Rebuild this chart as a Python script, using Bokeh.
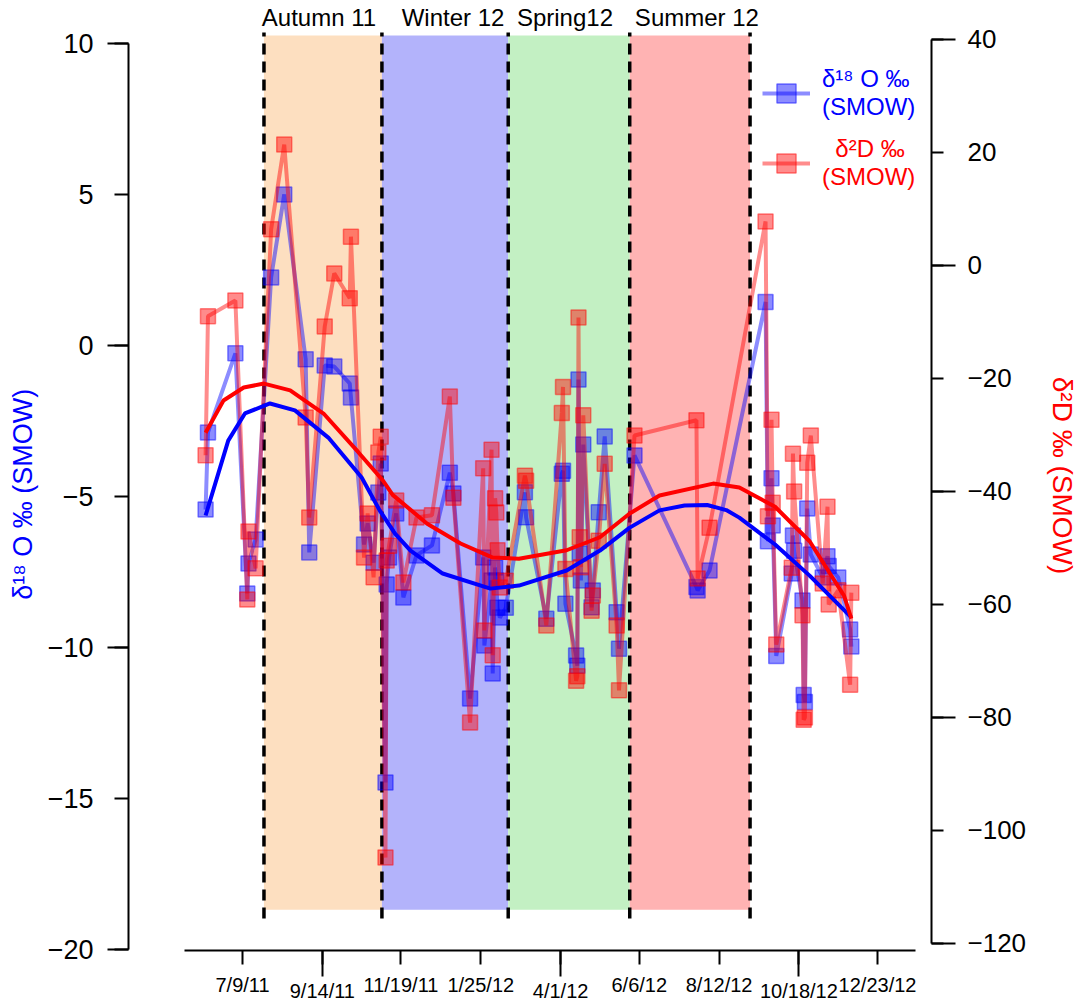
import pandas as pd
from bokeh.plotting import figure
from bokeh.models import (ColumnDataSource, Range1d, LinearAxis, FixedTicker,
                          Legend, LegendItem)
from bokeh.core.properties import value
from bokeh.embed import file_html
from bokeh.resources import INLINE

FONT = "Liberation Sans"
BLUE = "#0000FF"
RED = "#FF0000"
NBSP = "\u00a0"

# --- samples: date, d18O (left axis), d2D (right axis) ---
sample_dates = [
    "2011-06-08", "2011-06-10", "2011-07-03", "2011-07-13", "2011-07-14", "2011-07-20",
    "2011-08-02", "2011-08-13", "2011-08-31", "2011-09-03", "2011-09-16", "2011-09-24",
    "2011-10-07", "2011-10-08", "2011-10-19", "2011-10-22", "2011-10-27", "2011-10-31",
    "2011-11-02", "2011-11-06", "2011-11-07", "2011-11-09", "2011-11-15", "2011-11-21",
    "2011-12-02", "2011-12-15", "2011-12-30", "2012-01-02", "2012-01-16", "2012-01-27",
    "2012-01-28", "2012-02-03", "2012-02-04", "2012-02-06", "2012-02-07", "2012-02-08",
    "2012-02-10", "2012-02-15", "2012-03-02", "2012-03-03", "2012-03-20", "2012-04-02",
    "2012-04-03", "2012-04-05", "2012-04-14", "2012-04-15", "2012-04-16", "2012-04-17",
    "2012-04-18", "2012-04-20", "2012-04-27", "2012-04-28", "2012-05-03", "2012-05-08",
    "2012-05-18", "2012-05-20", "2012-06-02", "2012-07-24", "2012-07-25", "2012-08-04",
    "2012-09-20", "2012-09-22", "2012-09-25", "2012-09-26", "2012-09-29", "2012-10-12",
    "2012-10-13", "2012-10-14", "2012-10-21", "2012-10-22", "2012-10-23", "2012-10-25",
    "2012-10-28", "2012-11-07", "2012-11-11", "2012-11-12", "2012-11-20", "2012-11-30",
    "2012-12-01",
]
d18o = [
    -5.43, -2.88, -0.26, -8.21, -7.22, -6.42,
    2.25, 5.00, -0.46, -6.85, -0.66, -0.70,
    -1.26, -1.72, -6.59, -5.89, -7.19, -4.87,
    -3.91, -14.47, -7.91, -7.02, -5.56, -8.34,
    -6.95, -6.62, -4.21, -4.90, -11.69, -7.02,
    -9.93, -7.78, -10.86, -7.35, -7.78, -8.68,
    -9.01, -8.68, -4.86, -5.69, -9.05, -4.25,
    -4.15, -8.55, -10.26, -10.60, -1.13, -6.89,
    -7.78, -3.28, -8.67, -8.11, -5.52, -3.01,
    -8.83, -10.04, -3.64, -8.00, -8.11, -7.45,
    1.44, -6.48, -4.40, -5.96, -10.28, -7.55,
    -6.29, -6.80, -8.44, -11.57, -11.80, -5.40,
    -6.92, -7.68, -6.98, -7.30, -7.68, -9.40,
    -9.97,
]
d2h = [
    -33.6, -9.0, -6.2, -59.1, -47.1, -53.6,
    6.4, 21.4, -26.9, -44.6, -10.8, -1.4,
    -5.8, 5.1, -51.7, -43.9, -55.2, -33.1,
    -30.3, -104.8, -52.2, -49.6, -41.6, -56.1,
    -44.6, -44.2, -23.2, -41.1, -80.9, -35.9,
    -64.6, -32.6, -69.0, -41.2, -43.7, -50.4,
    -57.0, -55.8, -37.2, -38.1, -63.7, -26.1,
    -21.5, -53.7, -73.5, -72.7, -9.2, -48.1,
    -53.4, -26.5, -61.1, -58.4, -48.7, -35.1,
    -63.7, -75.2, -30.1, -27.4, -55.4, -46.4,
    7.8, -44.4, -27.3, -42.0, -67.1, -53.5,
    -33.3, -40.0, -61.9, -80.4, -80.0, -34.9,
    -30.1, -56.3, -42.7, -60.0, -57.5, -74.2,
    -57.9,
]

# --- smoothed trends ---
trend_o_dates = [
    "2011-06-08", "2011-06-27", "2011-07-11", "2011-08-01", "2011-08-22", "2011-09-19",
    "2011-10-17", "2011-11-01", "2011-11-14", "2011-11-27", "2011-12-24", "2012-02-02",
    "2012-02-26", "2012-04-06", "2012-05-04", "2012-05-29", "2012-06-23", "2012-07-14",
    "2012-08-02", "2012-08-18", "2012-08-29", "2012-09-28", "2012-10-27", "2012-12-01",
]
trend_o = [
    -5.63, -3.15, -2.25, -1.92, -2.15, -3.05,
    -4.37, -5.45, -6.23, -6.79, -7.55, -8.05,
    -7.95, -7.45, -6.79, -6.03, -5.46, -5.30,
    -5.28, -5.45, -5.70, -6.59, -7.62, -9.00,
]
trend_d_dates = [
    "2011-06-08", "2011-06-23", "2011-07-10", "2011-07-27", "2011-08-18", "2011-09-15",
    "2011-10-14", "2011-11-04", "2011-11-12", "2011-12-11", "2012-01-08", "2012-02-04",
    "2012-02-26", "2012-04-06", "2012-05-04", "2012-05-29", "2012-06-23", "2012-08-07",
    "2012-08-29", "2012-09-28", "2012-10-27", "2012-11-25", "2012-12-01",
]
trend_d = [
    -29.6, -23.9, -21.6, -20.9, -22.1, -26.2,
    -33.0, -38.1, -40.6, -45.7, -49.2, -51.7,
    -51.9, -50.4, -48.1, -43.9, -40.7, -38.6,
    -39.3, -42.7, -48.8, -58.5, -62.5,
]

# --- seasons ---
season_names = ["Autumn 11", "Winter 12", "Spring12", "Summer 12"]
season_start = ["2011-07-27", "2011-11-03", "2012-02-17", "2012-05-29"]
season_end = ["2011-11-03", "2012-02-17", "2012-05-29", "2012-09-07"]
season_colors = ["#FDDFC0", "#B3B3FB", "#C3F0C3", "#FFB3B3"]
season_label_nudge = [-4, 8, -4, 7]   # px, label offset from the season midpoint

# --- ticks ---
x_tick_dates = ["2011-07-09", "2011-09-14", "2011-11-19", "2012-01-25", "2012-04-01",
                "2012-06-06", "2012-08-12", "2012-10-18", "2012-12-23"]
x_tick_labels = ["7/9/11", "9/14/11", "11/19/11", "1/25/12", "4/1/12",
                 "6/6/12", "8/12/12", "10/18/12", "12/23/12"]
x_tick_low = [False, True, False, False, True, False, False, True, False]
left_ticks = [-20, -15, -10, -5, 0, 5, 10]
right_ticks = [-120, -100, -80, -60, -40, -20, 0, 20, 40]


def ms(d):
    return pd.Timestamp(d).value / 1e6


def minus(t):
    return str(t).replace("-", "\u2212")


p = figure(width=1084, height=1005, x_axis_type="datetime",
           x_range=Range1d(pd.Timestamp("2011-04-04 07:00").to_pydatetime(),
                           pd.Timestamp("2013-02-06 07:00").to_pydatetime()),
           y_range=Range1d(-20.03, 11.42),
           output_backend="svg", toolbar_location=None,
           min_border_left=128, min_border_right=153,
           min_border_top=0, min_border_bottom=55)
p.extra_y_ranges = {"dD": Range1d(-121.24, 46.90)}
p.outline_line_color = None
p.grid.visible = False

# season shading and boundaries
seasons = ColumnDataSource(dict(left=pd.to_datetime(season_start),
                                right=pd.to_datetime(season_end),
                                color=season_colors))
p.quad(left="left", right="right", bottom=-18.68, top=10.26, fill_color="color",
       line_color=None, source=seasons)
bounds_dates = pd.to_datetime(season_start + season_end[-1:])
p.segment(x0=bounds_dates, y0=-18.97, x1=bounds_dates, y1=10.36,
          line_color="black", line_width=3.5, line_dash="11 7")
mids = [pd.Timestamp(a) + (pd.Timestamp(b) - pd.Timestamp(a)) / 2
        for a, b in zip(season_start, season_end)]
season_lbl = ColumnDataSource(dict(x=mids, y=[10.85] * len(mids), text=season_names,
                                   dx=season_label_nudge))
p.text(x="x", y="y", text="text", x_offset="dx", source=season_lbl, text_align="center",
       text_baseline="alphabetic", text_font=value(FONT), text_font_size="24px",
       text_color="black")

# samples
src = ColumnDataSource(dict(date=pd.to_datetime(sample_dates), o=d18o, d=d2h))
o_line = p.line("date", "o", source=src, line_color=BLUE, line_alpha=0.45, line_width=4)
o_pts = p.scatter("date", "o", source=src, marker="square", size=15,
                  fill_color=BLUE, fill_alpha=0.45, line_color=BLUE, line_alpha=0.45,
                  line_width=1.5)
d_line = p.line("date", "d", source=src, y_range_name="dD", line_color=RED,
                line_alpha=0.45, line_width=4)
d_pts = p.scatter("date", "d", source=src, y_range_name="dD", marker="square", size=15,
                  fill_color=RED, fill_alpha=0.45, line_color=RED, line_alpha=0.45,
                  line_width=1.5)

# trends
p.line(pd.to_datetime(trend_o_dates), trend_o, line_color=BLUE, line_width=4)
p.line(pd.to_datetime(trend_d_dates), trend_d, y_range_name="dD", line_color=RED,
       line_width=4)

# bottom axis: long ticks (minor) carry the lower row of labels
xa = p.xaxis[0]
xa.ticker = FixedTicker(ticks=[ms(d) for d in x_tick_dates],
                        minor_ticks=[ms(d) for d, low in zip(x_tick_dates, x_tick_low) if low])
xa.bounds = (pd.Timestamp("2011-05-21").to_pydatetime(),
             pd.Timestamp("2013-01-24").to_pydatetime())
xa.major_label_overrides = {ms(d): ("\n" + lbl if low else lbl)
                            for d, lbl, low in zip(x_tick_dates, x_tick_labels, x_tick_low)}
xa.major_tick_out = 14
xa.major_tick_in = 0
xa.minor_tick_out = 26
xa.minor_tick_in = 0
xa.major_label_standoff = -3
xa.major_label_text_line_height = 0.3
xa.axis_line_width = 2
xa.major_tick_line_width = 2
xa.minor_tick_line_width = 2
xa.major_label_text_font = FONT
xa.major_label_text_font_size = "20px"
xa.major_label_text_color = "black"

# left axis
ya = p.yaxis[0]
ya.ticker = FixedTicker(ticks=left_ticks, minor_ticks=left_ticks[::2])
ya.bounds = (-20, 10)
ya.major_label_overrides = {t: minus(t) for t in left_ticks}
ya.major_tick_out = 14
ya.minor_tick_out = 21
ya.major_label_standoff = 14
ya.major_label_text_font_size = "27px"
ya.axis_label = "\u03b4\u00b9\u2078 O \u2030 (SMOW)" + NBSP * 5
ya.axis_label_text_color = BLUE
ya.axis_label_text_font_size = "27px"
ya.axis_label_standoff = 7

# right axis
yr = LinearAxis(y_range_name="dD",
                ticker=FixedTicker(ticks=right_ticks, minor_ticks=right_ticks[::2]),
                bounds=(-120, 40))
yr.major_label_overrides = {t: minus(t) for t in right_ticks}
yr.major_tick_out = 12
yr.minor_tick_out = 24
yr.major_label_standoff = 12
yr.major_label_text_font_size = "26px"
yr.axis_label = "\u03b4\u00b2D \u2030 (SMOW)"
yr.axis_label_text_color = RED
yr.axis_label_text_font_size = "28px"
yr.axis_label_standoff = 18
p.add_layout(yr, "right")

for a in [ya, yr]:
    a.major_tick_in = 0
    a.minor_tick_in = 0
    a.axis_line_width = 2
    a.major_tick_line_width = 2
    a.minor_tick_line_width = 2
    a.major_label_text_font = FONT
    a.major_label_text_color = "black"
    a.axis_label_text_font = FONT
    a.axis_label_text_font_style = "normal"

# legends, one per colour
for item, rends, col, loc in [
        ("\u03b4\u00b9\u2078 O \u2030\n(SMOW)", [o_line, o_pts], BLUE, (634, 829)),
        (NBSP * 2 + "\u03b4\u00b2D \u2030\n(SMOW)", [d_line, d_pts], RED, (634, 759))]:
    leg = Legend(items=[LegendItem(label=value(item), renderers=rends)], location=loc,
                 label_text_color=col, label_text_font=FONT, label_text_font_size="24px",
                 label_text_line_height=1.3,
                 glyph_width=48, glyph_height=52, label_standoff=12, padding=0, margin=0,
                 border_line_color=None, background_fill_alpha=0)
    p.add_layout(leg)

open("out.html", "w").write(file_html(p, INLINE))
